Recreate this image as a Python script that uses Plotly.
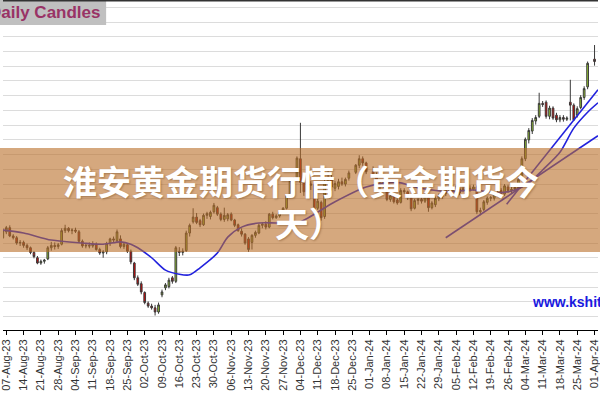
import plotly.graph_objects as go

# trading-day slot (0 = Mon 07-Aug-2023, 5 slots per week; holidays omitted)
slots = [-1, 0, 1, 2, 3, 4, 5, 6, 7, 8, 9, 10, 11, 12, 13, 14, 15, 16, 17, 18, 19,
         20, 21, 22, 23, 24, 25, 26, 27, 28, 29, 30, 31, 32, 33, 34, 35, 36, 37, 38, 39,
         40, 41, 42, 43, 44, 45, 46, 47, 48, 49, 50, 51, 52, 53, 54, 55, 56, 57, 58, 59,
         60, 61, 62, 63, 64, 65, 66, 67, 68, 69, 70, 71, 72, 73, 74, 75, 76, 77, 78, 79,
         80, 81, 82, 83, 84, 85, 86, 87, 88, 89, 90, 91, 92, 93, 94, 95, 96, 97, 98, 99,
         101, 102, 103, 104, 106, 107, 108, 109, 110, 111, 112, 113, 114, 115, 116, 117, 118, 119,
         120, 121, 122, 123, 124, 125, 126, 127, 128, 129, 130, 131, 132, 133, 134, 135, 136, 137, 138, 139,
         140, 141, 142, 143, 144, 145, 146, 147, 148, 149, 150, 151, 152, 153, 154, 155, 156, 157, 158, 159,
         160, 161, 162, 163, 164, 165, 166, 167, 168, 170]

opens = [1934, 1944, 1951, 1937, 1934, 1925, 1926, 1921, 1917, 1909, 1900, 1891, 1894, 1898, 1917, 1921, 1919, 1923, 1946, 1950, 1946,
         1947, 1944, 1928, 1920, 1921, 1920, 1923, 1914, 1908, 1910, 1924, 1932, 1929, 1932, 1919, 1922, 1911, 1891, 1866, 1856,
         1841, 1823, 1818, 1815, 1808, 1837, 1849, 1851, 1866, 1860, 1911, 1909, 1912, 1942, 1961, 1969, 1963, 1956, 1972, 1970,
         1978, 1985, 1974, 1965, 1966, 1974, 1964, 1956, 1945, 1940, 1932, 1926, 1938, 1942, 1955, 1957, 1952, 1974, 1968, 1971,
         1978, 1984, 2005, 2031, 2036, 2068, 2028, 2012, 2023, 2024, 1984, 1994, 1970, 2028, 2036, 2018, 2021, 2029, 2025, 2035,
         2045, 2057, 2068, 2061, 2046, 2040, 2022, 2025, 2024, 1999, 2005, 1998, 1994, 2014, 2012, 2002, 1984, 1997,
         1999, 1996, 2002, 1985, 1990, 2000, 2004, 2009, 2018, 2014, 2021, 2010, 2017, 2015, 2018, 2016, 2020, 1978, 1982, 1994,
         2001, 2001, 2009, 2014, 2008, 2020, 2014, 2016, 2019, 2034, 2068, 2100, 2115, 2132, 2140, 2162, 2164, 2140, 2154, 2142,
         2134, 2138, 2135, 2164, 2159, 2142, 2155, 2172, 2190, 2237]

highs = [1950, 1954, 1955, 1940, 1937, 1930, 1929, 1924, 1919, 1911, 1903, 1897, 1898, 1920, 1927, 1926, 1925, 1950, 1956, 1952, 1950,
         1951, 1947, 1931, 1925, 1926, 1928, 1926, 1917, 1913, 1927, 1934, 1936, 1948, 1938, 1926, 1925, 1914, 1893, 1870, 1860,
         1843, 1826, 1822, 1820, 1824, 1846, 1857, 1866, 1869, 1920, 1918, 1916, 1946, 1958, 1984, 1976, 1966, 1975, 1978, 1980,
         1993, 1988, 1977, 1985, 1976, 1977, 1966, 1958, 1950, 1942, 1935, 1940, 1946, 1958, 1960, 1962, 1976, 1978, 1974, 1980,
         1986, 2008, 2035, 2036, 2072, 2129, 2036, 2028, 2030, 2027, 2000, 1997, 2032, 2048, 2044, 2030, 2034, 2036, 2036, 2048,
         2059, 2074, 2072, 2063, 2055, 2045, 2030, 2032, 2026, 2008, 2008, 2004, 2018, 2018, 2014, 2005, 2000, 2003,
         2006, 2010, 2006, 1996, 2004, 2009, 2012, 2022, 2026, 2024, 2024, 2020, 2022, 2020, 2023, 2024, 2023, 1985, 1998, 2004,
         2005, 2012, 2014, 2018, 2025, 2024, 2020, 2022, 2036, 2072, 2104, 2120, 2137, 2142, 2180, 2166, 2167, 2158, 2157, 2146,
         2142, 2142, 2140, 2202, 2162, 2157, 2176, 2191, 2233, 2261]

lows = [1932, 1940, 1935, 1931, 1922, 1920, 1917, 1913, 1906, 1899, 1889, 1888, 1890, 1896, 1912, 1914, 1915, 1921, 1942, 1943, 1940,
        1942, 1925, 1917, 1916, 1916, 1917, 1912, 1905, 1900, 1906, 1920, 1926, 1926, 1916, 1915, 1908, 1889, 1862, 1852, 1838,
        1821, 1815, 1812, 1802, 1805, 1833, 1845, 1848, 1856, 1857, 1903, 1904, 1910, 1936, 1958, 1957, 1952, 1954, 1966, 1965,
        1975, 1971, 1962, 1961, 1962, 1962, 1952, 1944, 1936, 1922, 1910, 1914, 1934, 1940, 1950, 1948, 1950, 1965, 1966, 1968,
        1975, 1982, 2002, 2020, 2030, 2010, 2005, 2008, 2015, 1979, 1981, 1963, 1966, 2024, 2014, 2013, 2016, 2022, 2021, 2031,
        2042, 2052, 2056, 2042, 2036, 2018, 2015, 2018, 1996, 1995, 1992, 1990, 1992, 2008, 1998, 1979, 1982, 1990,
        1992, 1993, 1978, 1982, 1986, 1996, 2000, 2005, 2010, 2008, 2006, 2006, 2011, 2009, 2012, 2014, 1974, 1972, 1979, 1990,
        1996, 1997, 2004, 2004, 2005, 2010, 2010, 2012, 2016, 2031, 2064, 2094, 2110, 2126, 2137, 2156, 2136, 2135, 2134, 2130,
        2130, 2131, 2132, 2133, 2132, 2138, 2152, 2168, 2186, 2226]

closes = [1947, 1951, 1937, 1934, 1925, 1926, 1921, 1917, 1909, 1902, 1891, 1894, 1896, 1917, 1921, 1919, 1922, 1946, 1950, 1946, 1947,
          1945, 1928, 1920, 1921, 1920, 1923, 1914, 1908, 1910, 1924, 1932, 1930, 1944, 1919, 1923, 1911, 1893, 1866, 1855, 1842,
          1824, 1818, 1815, 1808, 1820, 1842, 1854, 1862, 1860, 1917, 1909, 1911, 1942, 1955, 1969, 1960, 1956, 1972, 1975, 1977,
          1989, 1974, 1965, 1972, 1973, 1964, 1955, 1946, 1940, 1925, 1914, 1938, 1943, 1955, 1957, 1952, 1974, 1968, 1971, 1977,
          1984, 2005, 2031, 2026, 2069, 2028, 2012, 2023, 2025, 1982, 1996, 1968, 2028, 2036, 2020, 2026, 2029, 2025, 2033, 2044,
          2057, 2068, 2061, 2046, 2040, 2022, 2025, 2027, 1999, 2005, 1995, 1993, 2014, 2012, 2002, 1983, 1997, 1999,
          1996, 2006, 1985, 1993, 2001, 2005, 2009, 2018, 2014, 2021, 2010, 2017, 2015, 2018, 2016, 2020, 1978, 1980, 1995, 2001,
          2002, 2009, 2010, 2007, 2022, 2014, 2016, 2019, 2033, 2068, 2101, 2116, 2133, 2138, 2162, 2160, 2140, 2154, 2137, 2134,
          2138, 2135, 2137, 2159, 2134, 2153, 2172, 2187, 2230, 2233]

# moving average
ma_slots = [-1, 5, 13, 22, 28, 33, 36, 38, 42, 46, 50, 53, 56, 61, 64, 68, 73, 78, 82, 85,
            95, 104, 110, 114, 118, 123, 128, 135, 142, 147, 151, 155, 160, 164, 168, 171]
ma_values = [1947, 1942, 1930, 1925, 1923, 1927, 1923, 1917, 1900, 1879, 1872, 1871, 1883, 1908, 1935, 1952, 1959, 1959, 1959, 1961,
             1995, 2020, 2027, 2027, 2020, 2015, 2012, 2015, 2010, 2015, 2027, 2049, 2079, 2120, 2147, 2163]

# straight trend lines (start, end)
trend1_slots = [127.0, 171.0]
trend1_values = [1934, 2107]
trend2_slots = [144.6, 171.0]
trend2_values = [1991, 2185]

tick_slots = list(range(0, 171, 5))
tick_labels = ["07-Aug-23", "14-Aug-23", "21-Aug-23", "28-Aug-23", "04-Sep-23", "11-Sep-23", "18-Sep-23",
               "25-Sep-23", "02-Oct-23", "09-Oct-23", "16-Oct-23", "23-Oct-23", "30-Oct-23", "06-Nov-23",
               "13-Nov-23", "20-Nov-23", "27-Nov-23", "04-Dec-23", "11-Dec-23", "18-Dec-23", "25-Dec-23",
               "01-Jan-24", "08-Jan-24", "15-Jan-24", "22-Jan-24", "29-Jan-24", "05-Feb-24", "12-Feb-24",
               "19-Feb-24", "26-Feb-24", "04-Mar-24", "11-Mar-24", "18-Mar-24", "25-Mar-24", "01-Apr-24"]

title_line1 = "淮安黄金期货行情（黄金期货今"
title_line2 = "天）"

W, H = 600, 400
PLOT_H = 330


def py(pix):  # pixel row -> paper y
    return (PLOT_H - pix) / PLOT_H


def px(pix):  # pixel column -> paper x
    return pix / W


fig = go.Figure()
fig.add_trace(go.Candlestick(
    x=slots, open=opens, high=highs, low=lows, close=closes,
    increasing=dict(fillcolor="#99cc33", line=dict(color="#3a3a3a", width=1)),
    decreasing=dict(fillcolor="#dd0000", line=dict(color="#3a3a3a", width=1)),
    whiskerwidth=0, showlegend=False, hoverinfo="skip"))
fig.add_trace(go.Scatter(x=ma_slots, y=ma_values, mode="lines",
                         line=dict(color="#2222dd", width=1.6, shape="spline", smoothing=0.8),
                         showlegend=False, hoverinfo="skip"))
for tx, ty in ((trend1_slots, trend1_values), (trend2_slots, trend2_values)):
    fig.add_trace(go.Scatter(x=tx, y=ty, mode="lines",
                             line=dict(color="#2222dd", width=1.6),
                             showlegend=False, hoverinfo="skip"))

shapes = [
    # banner
    dict(type="rect", xref="paper", yref="paper", x0=-0.01, x1=1.01, y0=py(252), y1=py(148),
         fillcolor="rgba(185,110,40,0.6)", line=dict(width=0), layer="above"),
    # "Daily Candles" box
    dict(type="rect", xref="paper", yref="paper", x0=-0.02, x1=px(104), y0=py(25), y1=py(0),
         fillcolor="#c0c0c0", line=dict(width=0), layer="above"),
    # top frame line
    dict(type="line", xref="paper", yref="paper", x0=0, x1=1, y0=py(0.5), y1=py(0.5),
         line=dict(color="#333333", width=2), layer="above"),
]

annotations = [
    dict(text=title_line1, xref="paper", yref="paper", x=0.5, y=py(180), xanchor="center", yanchor="middle",
         showarrow=False, font=dict(family="Noto Sans CJK SC", size=34, color="white", weight="bold",
                                    shadow="1px 1px 2px rgba(80,40,0,0.35)")),
    dict(text=title_line2, xref="paper", yref="paper", x=px(309), y=py(222), xanchor="center", yanchor="middle",
         showarrow=False, font=dict(family="Noto Sans CJK SC", size=34, color="white", weight="bold",
                                    shadow="1px 1px 2px rgba(80,40,0,0.35)")),
    dict(text="<b>Daily Candles</b>", xref="paper", yref="paper", x=px(101), y=py(12.5), xanchor="right",
         yanchor="middle", showarrow=False,
         font=dict(family="Liberation Sans, Arial", size=17, color="#993366")),
    dict(text="<b>www.kshitij.com</b>", xref="paper", yref="paper", x=px(531), y=py(302), xanchor="left",
         yanchor="middle", showarrow=False,
         font=dict(family="Liberation Sans, Arial", size=14, color="#1a1ae0")),
]

fig.update_layout(
    width=W, height=H,
    margin=dict(l=0, r=0, t=0, b=H - PLOT_H),
    paper_bgcolor="white", plot_bgcolor="white",
    shapes=shapes, annotations=annotations,
    xaxis=dict(range=[-0.95, 171.0], tickmode="array", tickvals=tick_slots, ticktext=tick_labels,
               tickangle=-90, ticks="outside", ticklen=4, tickcolor="#000", showline=True,
               linecolor="#000", linewidth=1, showgrid=False, zeroline=False,
               ticklabeloverflow="allow",
               rangeslider=dict(visible=False),
               tickfont=dict(family="Liberation Sans, Arial", size=11, color="#333")),
    yaxis=dict(range=[1777.4, 2337.4], showticklabels=False, tick0=1800, dtick=25,
               gridcolor="#dcdcdc", gridwidth=1, zeroline=False, ticks=""),
)

fig.write_html("out.html", config={"displayModeBar": False},
               post_script="document.body.style.margin='0px';document.body.style.overflow='hidden';")
